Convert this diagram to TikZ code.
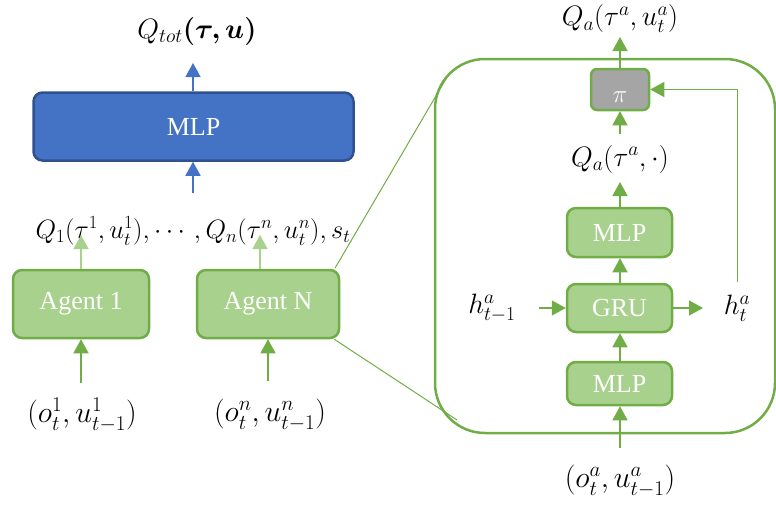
\RequirePackage{fix-cm}
\documentclass[tikz,border=0pt]{standalone}
\usepackage{amsmath,bm}
\usepackage[no-math]{fontspec}
\setmainfont{Liberation Serif}
\usetikzlibrary{arrows.meta}
\definecolor{bfill}{HTML}{4472C4}
\definecolor{bdraw}{HTML}{2F528F}
\definecolor{gfill}{HTML}{A9D18E}
\definecolor{gdraw}{HTML}{70AD47}
\definecolor{pfill}{HTML}{A5A5A5}
\tikzset{
  box/.style={line width=2.5pt, rounded corners=9pt, text=white, inner sep=0pt,
    font=\fontsize{26}{30}\selectfont},
  gbox/.style={box, draw=gdraw, fill=gfill},
  bbox/.style={box, draw=bdraw, fill=bfill},
  lab/.style={inner sep=0pt, font=\fontsize{28}{32}\selectfont},
  arr/.style={-{Triangle[length=14pt,width=15pt]}, line width=1.5pt, draw=gdraw},
  larr/.style={arr, draw=gfill},
  barr/.style={arr, draw=bfill},
  zline/.style={draw=gdraw, line width=1pt},
}
\begin{document}
\begin{tikzpicture}[x=1pt,y=-1pt]
\useasboundingbox (0,0) rectangle (776,506);
% big zoom box
\node[draw=gdraw, line width=2.5pt, rounded corners=50pt, minimum width=340pt, minimum height=374pt, inner sep=0pt] (big) at (605,246) {};
% left part
\node[bbox, minimum width=320pt, minimum height=68pt] (mix) at (193.5,126.5) {MLP};
\node[gbox, minimum width=136pt, minimum height=68pt] (ag1) at (81,304) {Agent 1};
\node[gbox, minimum width=142pt, minimum height=68pt] (agN) at (268,304) {Agent N};
\node[lab] (qtot) at (197,31) {$Q_{tot}\bm{(\tau,u)}$};
\node[lab, font=\fontsize{26.5}{30}\selectfont] (qlist) at (193,231) {$Q_1(\tau^1,u_t^1),\cdots,Q_n(\tau^n,u_t^n),s_t$};
\node[lab, font=\fontsize{30}{34}\selectfont] (o1) at (82,415) {$(o_t^1,u_{t-1}^1)$};
\node[lab, font=\fontsize{30}{34}\selectfont] (on) at (270,415) {$(o_t^n,u_{t-1}^n)$};
\coordinate (qtin) at (193,63);
\coordinate (qlout) at (193,193);
\coordinate (q1in) at (81,235);
\coordinate (qnin) at (260,235);
\coordinate (o1out) at (81,383);
\coordinate (onout) at (268,381);
\draw[barr] (mix.north -| qtin) -- (qtin);
\draw[barr] (qlout) -- (mix.south -| qlout);
\draw[larr] (ag1.north) -- (q1in);
\draw[larr] (agN.north -| qnin) -- (qnin);
\draw[arr] (o1out) -- (ag1.south);
\draw[arr] (onout) -- (agN.south);
% zoom lines
\coordinate (zt) at (447,77);
\coordinate (zb) at (457,420);
\draw[zline] ([xshift=-5pt,yshift=1pt]agN.north east) -- (zt);
\draw[zline] ([xshift=-6pt]agN.south east) -- (zb);
% inner part
\node[box, draw=gdraw, fill=pfill, minimum width=58pt, minimum height=41pt, rounded corners=6pt] (pi) at (620,89.5) {};
\node[lab, text=white, font=\fontsize{25}{30}\selectfont] (pisym) at (620,97) {$\pi$};
\node[gbox, minimum width=105pt, minimum height=49pt] (mlp2) at (619.5,232.5) {MLP};
\node[gbox, minimum width=105pt, minimum height=48pt] (gru) at (619.5,308) {GRU};
\node[gbox, minimum width=105pt, minimum height=43pt] (mlp1) at (619.5,383.5) {MLP};
\node[lab] (qa) at (620,19) {$Q_a(\tau^a,u_t^a)$};
\node[lab] (qdot) at (620,159) {$Q_a(\tau^a,\cdot)$};
\node[lab, font=\fontsize{30}{34}\selectfont] (oa) at (620,481) {$(o_t^a,u_{t-1}^a)$};
\node[lab] (hp) at (492,308) {$h_{t-1}^a$};
\node[lab] (ht) at (737,308) {$h_t^a$};
\coordinate (qain) at (620,37);
\coordinate (qdout) at (620,134);
\coordinate (qdin) at (620,182);
\coordinate (oaout) at (620,448);
\coordinate (hpout) at (539,308);
\coordinate (htin) at (703,308);
\coordinate (htout) at (737,282);
\draw[arr] (pi.north) -- (qain);
\draw[arr] (qdout) -- (pi.south);
\draw[arr] (mlp2.north -| qdin) -- (qdin);
\draw[arr] (gru.north -| qdin) -- (mlp2.south -| qdin);
\draw[arr] (mlp1.north -| qdin) -- (gru.south -| qdin);
\draw[arr] (oaout) -- (mlp1.south -| oaout);
\draw[arr] (hpout) -- (gru.west);
\draw[arr] (gru.east) -- (htin);
\draw[arr, line width=1pt] (htout) |- (pi.east);
\end{tikzpicture}
\end{document}
